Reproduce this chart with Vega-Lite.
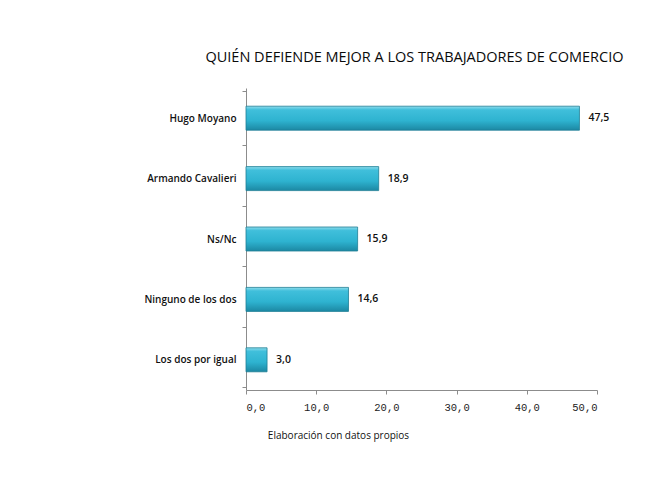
{
  "$schema": "https://vega.github.io/schema/vega-lite/v6.json",
  "autosize": {"type": "none"},
  "width": 351,
  "height": 302,
  "padding": {"left": 246, "top": 88, "right": 72, "bottom": 87},
  "background": "white",
  "title": {
    "text": "QUIÉN DEFIENDE MEJOR A LOS TRABAJADORES DE COMERCIO",
    "font": "Open Sans",
    "fontSize": 14.5,
    "fontWeight": 500,
    "color": "#0a0a0a",
    "anchor": "middle",
    "dx": -7,
    "offset": 18
  },
  "data": {
    "values": [
      {"respuesta": "Hugo Moyano", "valor": 47.5},
      {"respuesta": "Armando Cavalieri", "valor": 18.9},
      {"respuesta": "Ns/Nc", "valor": 15.9},
      {"respuesta": "Ninguno de los dos", "valor": 14.6},
      {"respuesta": "Los dos por igual", "valor": 3.0}
    ]
  },
  "encoding": {
    "y": {
      "field": "respuesta",
      "type": "nominal",
      "sort": null,
      "axis": {
        "title": null,
        "tickBand": "extent",
        "tickSize": 4,
        "tickColor": "#8c8c8c",
        "domainColor": "#8c8c8c",
        "labelPadding": 6,
        "labelFont": "Open Sans",
        "labelFontSize": 10,
        "labelFontWeight": 600,
        "labelColor": "#111111"
      }
    },
    "x": {
      "field": "valor",
      "type": "quantitative",
      "scale": {"domain": [0, 50], "nice": false},
      "axis": {
        "values": [0, 10, 20, 30, 40, 50],
        "format": ".1f",
        "grid": false,
        "tickSize": 4,
        "tickColor": "#8c8c8c",
        "domainColor": "#8c8c8c",
        "labelFont": "Liberation Mono",
        "labelFontSize": 10.5,
        "labelColor": "#222222",
        "labelPadding": 8,
        "title": "Elaboración con datos propios",
        "titleFont": "Open Sans",
        "titleFontSize": 10,
        "titleFontWeight": "normal",
        "titleColor": "#111111",
        "titleX": 92,
        "titleY": 48,
        "titleAlign": "center",
        "titleBaseline": "alphabetic"
      }
    }
  },
  "layer": [
    {
      "mark": {
        "type": "bar",
        "height": 24,
        "stroke": "#1f7f95",
        "strokeWidth": 0.8,
        "color": {
          "gradient": "linear",
          "x1": 0, "y1": 0, "x2": 0, "y2": 1,
          "stops": [
            {"offset": 0, "color": "#8fdcec"},
            {"offset": 0.15, "color": "#40bfdb"},
            {"offset": 0.6, "color": "#2eb3d0"},
            {"offset": 1, "color": "#1c88a3"}
          ]
        }
      }
    },
    {
      "mark": {
        "type": "text",
        "align": "left",
        "baseline": "middle",
        "dx": 9,
        "font": "Open Sans",
        "fontSize": 10.5,
        "fontWeight": 600,
        "color": "#111111"
      },
      "encoding": {
        "text": {"field": "valor", "type": "quantitative", "format": ".1f"}
      }
    }
  ],
  "config": {
    "view": {"stroke": null},
    "locale": {
      "number": {
        "decimal": ",",
        "thousands": ".",
        "grouping": [3],
        "currency": ["$", ""]
      }
    }
  }
}
